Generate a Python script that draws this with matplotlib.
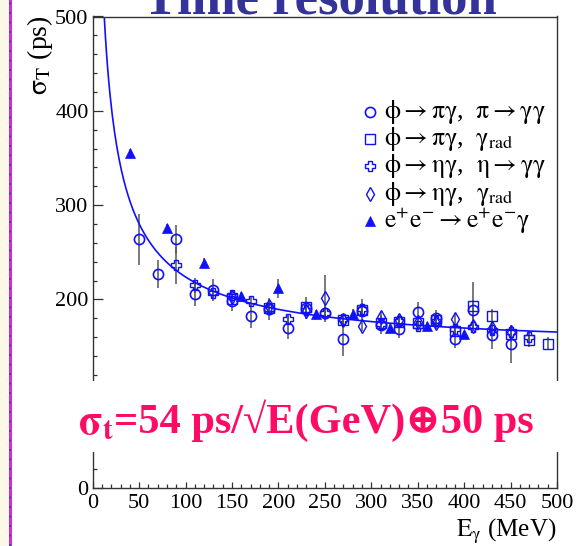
import numpy as np
import matplotlib.pyplot as plt
from matplotlib.patches import Rectangle
from matplotlib.lines import Line2D
from matplotlib.ticker import MultipleLocator

plt.rcParams['font.family'] = ['Liberation Serif', 'DejaVu Serif']
plt.rcParams['mathtext.fontset'] = 'stix'
plt.rcParams['mathtext.default'] = 'rm'

# phi -> pi gamma, pi -> gamma gamma (open circles)
E_pi = [50, 70, 90, 110, 130, 150, 170, 190, 210, 230, 250,
        270, 290, 310, 330, 350, 370, 390, 410, 430, 450]
s_pi = [264, 227, 264, 206, 210, 198, 182, 190, 170, 191, 186,
        158, 188, 173, 169, 187, 180, 158, 189, 162, 153]
e_pi = [27, 15, 15, 13, 12, 10, 12, 12, 12, 12, 8,
        18, 12, 10, 10, 10, 9, 10, 10, 15, 20]

# phi -> pi gamma, gamma_rad (open squares)
E_pirad = [150, 190, 230, 270, 290, 310, 330, 350, 370, 390, 410, 430, 450, 470, 490]
s_pirad = [200, 191, 192, 178, 189, 175, 176, 175, 178, 167, 193, 182, 163, 157, 153]
e_pirad = [6, 6, 6, 6, 7, 6, 6, 6, 6, 7, 25, 8, 8, 8, 7]

# phi -> eta gamma, eta -> gamma gamma (open crosses)
E_eta = [90, 110, 130, 150, 170, 190, 210, 230, 250, 270,
         290, 310, 330, 350, 370, 390, 410, 430, 450, 470]
s_eta = [236, 215, 207, 205, 198, 190, 179, 189, 186, 179,
         190, 174, 177, 172, 177, 169, 171, 168, 165, 160]
e_eta = [20, 8, 6, 5, 5, 5, 6, 5, 6, 5, 6, 5, 5, 5, 6, 5, 5, 5, 6, 6]

# phi -> eta gamma, gamma_rad (open diamonds)
E_etarad = [150, 190, 230, 250, 270, 290, 310, 330, 350, 370, 390, 410, 430, 450]
s_etarad = [203, 193, 188, 201, 178, 172, 181, 178, 176, 175, 179, 172, 170, 165]
e_etarad = [6, 6, 6, 25, 6, 6, 6, 6, 6, 6, 7, 6, 6, 7]

# e+e- -> e+e- gamma (filled triangles)
E_ee = [40, 80, 120, 160, 200, 240, 280, 320, 360, 400]
s_ee = [355, 276, 239, 204, 212, 185, 185, 170, 172, 163]
e_ee = [4, 4, 5, 4, 10, 4, 5, 4, 4, 4]

# fit: sigma = a/sqrt(E[GeV]) (+) b
fit_a, fit_b = 53.3, 147.2

labels = [r'$\phi \rightarrow \pi\gamma$,  $\pi \rightarrow \gamma\gamma$',
          r'$\phi \rightarrow \pi\gamma$,  $\gamma_{rad}$',
          r'$\phi \rightarrow \eta\gamma$,  $\eta \rightarrow \gamma\gamma$',
          r'$\phi \rightarrow \eta\gamma$,  $\gamma_{rad}$',
          r'$e^{+}e^{-} \rightarrow e^{+}e^{-}\gamma$']

W, H = 577, 546
blue = '#1010FF'
ebar = '#555555'
pink = '#FF0A64'


def fx(px):
    return px / W


def fy(py):
    return 1 - py / H


fig = plt.figure(figsize=(W / 100, H / 100), dpi=100)
fig.patch.set_facecolor('white')

x0, x1 = 92.7, 557
y_top, y_bot = 16.5, 488

ax = fig.add_axes([fx(x0), fy(y_bot), fx(x1) - fx(x0), (y_bot - y_top) / H])
ax.set_xlim(0, 500)
ax.set_ylim(0, 500)

series = [
    (E_pi, s_pi, e_pi, dict(marker='o', ms=7.3, mfc='none', mec=blue, mew=1.2)),
    (E_pirad, s_pirad, e_pirad, dict(marker='s', ms=6.5, mfc='none', mec=blue, mew=1.0)),
    (E_eta, s_eta, e_eta, dict(marker='P', ms=7.5, mfc='none', mec=blue, mew=1.0)),
    (E_etarad, s_etarad, e_etarad, dict(marker='d', ms=7, mfc='none', mec=blue, mew=1.0)),
    (E_ee, s_ee, e_ee, dict(marker='^', ms=7.5, mfc=blue, mec=blue, mew=0.5)),
]

for E, s, e, st in series:
    ax.errorbar(E, s, yerr=e, fmt='none', ecolor=ebar, elinewidth=1.1, capsize=0, zorder=2)
    ax.plot(E, s, ls='none', zorder=3, **st)

Ef = np.linspace(10, 500, 400)
ax.plot(Ef, np.sqrt(fit_a ** 2 / (Ef / 1000) + fit_b ** 2), color=blue, lw=1.2, zorder=2.5)

# legend drawn by hand
leg_y = [398.4, 369.7, 341.0, 312.2, 283.5]
for (E, s, e, st), lab, yy in zip(series, labels, leg_y):
    ax.plot([299], [yy], ls='none', clip_on=False, **st)
    ax.text(314, yy, lab, fontsize=18.5, va='center', ha='left')

# axes styling
for sp in ax.spines.values():
    sp.set_color('#333333')
    sp.set_linewidth(1.0)
ax.tick_params(direction='in', labelsize=16, width=0.9, color='#333333',
               right=False, top=False, which='both')
ax.yaxis.set_major_locator(MultipleLocator(100))
ax.yaxis.set_minor_locator(MultipleLocator(20))
ax.xaxis.set_major_locator(MultipleLocator(50))
ax.xaxis.set_minor_locator(MultipleLocator(10))
ax.tick_params(axis='y', which='major', length=7, pad=3)
ax.tick_params(axis='y', which='minor', length=3)
ax.tick_params(axis='x', which='major', length=4.5, pad=4)
ax.tick_params(axis='x', which='minor', length=3)

# white box for the formula, hiding part of the frame
fig.patches.append(Rectangle((fx(14), fy(452)), 1 - fx(14), (452 - 381) / H,
                             transform=fig.transFigure, facecolor='white',
                             edgecolor='none', zorder=3))
renderer = fig.canvas.get_renderer()
t1 = fig.text(fx(78), fy(433), r'$\mathbf{\sigma}_{\mathbf{t}}$', fontsize=30.5,
              color=pink, ha='left', va='baseline', zorder=4)
w1 = t1.get_window_extent(renderer).width
fig.text(fx(78 + w1), fy(433), '=54 ps/\u221aE(GeV)\u229550 ps', fontsize=30.5,
         fontweight='bold', color=pink, ha='left', va='baseline', zorder=4)

# axis titles
fig.text(fx(40), fy(15), r'$\sigma_{T}$ (ps)', rotation=90, fontsize=20, ha='center', va='top')
fig.text(fx(556), fy(536), r'$E_{\gamma}$ (MeV)', fontsize=18, ha='right', va='baseline')

# slide title, cut by the top edge
fig.text(fx(320), fy(14), 'Time resolution', fontsize=38, fontweight='bold',
         color='#333399', ha='center', va='baseline')

# slide left border
fig.patches.append(Rectangle((0, 0), fx(9), 1, transform=fig.transFigure,
                             facecolor='#FBF8E8', edgecolor='none', zorder=5))
fig.lines.append(Line2D([fx(10), fx(10)], [0, 1], transform=fig.transFigure,
                        color='#CC33CC', lw=2.2, zorder=6))
fig.lines.append(Line2D([fx(10), fx(10)], [0, 1], transform=fig.transFigure,
                        color='#3344AA', lw=1.2, dashes=(1.2, 4.5), zorder=7))

fig.savefig('out.png', dpi=100)
